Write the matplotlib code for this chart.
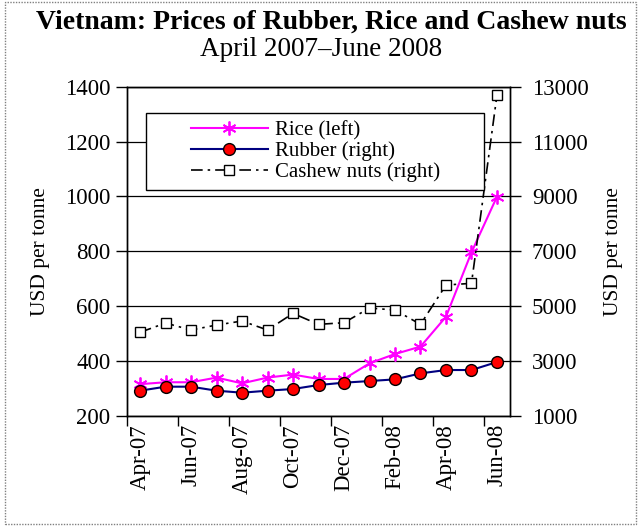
import matplotlib
matplotlib.use("Agg")
import matplotlib.pyplot as plt
from matplotlib.patches import Rectangle
from matplotlib.lines import Line2D
import numpy as np

plt.rcParams["font.family"] = ["Liberation Serif", "DejaVu Serif"]

# --- data ------------------------------------------------------------------
months = ["Apr-07", "May-07", "Jun-07", "Jul-07", "Aug-07", "Sep-07", "Oct-07",
          "Nov-07", "Dec-07", "Jan-08", "Feb-08", "Mar-08", "Apr-08", "May-08",
          "Jun-08"]
rice = [315, 322, 322, 339, 318, 339, 350, 334, 334, 391, 425, 452, 561, 796, 999]
rubber = [1912, 2058, 2058, 1912, 1839, 1912, 1973, 2119, 2204, 2264, 2325,
          2544, 2666, 2666, 2957]
cashew = [4040, 4380, 4125, 4307, 4453, 4125, 4732, 4331, 4392, 4927, 4854,
          4331, 5766, 5827, 12700]

left_ticks = [200, 400, 600, 800, 1000, 1200, 1400]
right_ticks = [1000, 3000, 5000, 7000, 9000, 11000, 13000]

FS = 16.5
x = np.arange(len(months))

fig = plt.figure(figsize=(6.39, 5.27), dpi=100)
ax = fig.add_axes([0.1992, 0.2112, 0.5985, 0.6243])
ax2 = ax.twinx()

# rice on the left axis
ax.plot(x, rice, color="#ff00ff", lw=1.5, marker=(6, 2, 0), ms=10, mew=1.3,
        zorder=3)
ax.set_ylim(200, 1400)
ax.set_yticks(left_ticks)
ax.set_xlim(-0.5, len(months) - 0.5)
ax.grid(axis="y", color="black", lw=0.9)
ax.set_axisbelow(True)

# category axis: ticks every 2 categories, labels on the points
ax.set_xticks(np.arange(-0.5, len(months) - 1, 2))
ax.set_xticks(x[::2], minor=True)
ax.set_xticklabels([])
ax.set_xticklabels(months[::2], minor=True, rotation=90, fontsize=FS)
ax.tick_params(axis="x", which="major", direction="out", length=7, width=1)
ax.tick_params(axis="x", which="minor", length=0, pad=6)
ax.tick_params(axis="y", direction="out", length=8, width=1, labelsize=FS, pad=4)
ax.set_ylabel("USD per tonne", fontsize=15.5, labelpad=11)

# rubber and cashew on the right axis
ax2.plot(x, rubber, color="#000080", lw=1.5, marker="o", ms=8.5, mfc="red",
         mec="black", mew=1.0, zorder=3)
ax2.plot(x, cashew, color="black", lw=1.2, ls=(0, (7, 3, 1.5, 3)), marker="s",
         ms=7, mfc="white", mec="black", mew=1.0, zorder=3)
ax2.set_ylim(1000, 13000)
ax2.set_yticks(right_ticks)
ax2.tick_params(axis="y", direction="out", length=8, width=1, labelsize=FS, pad=8)
ax2.set_ylabel("USD per tonne", fontsize=15.5, labelpad=11)

for a in (ax, ax2):
    for s in a.spines.values():
        s.set_linewidth(1)
        s.set_color("black")

# legend in a fixed box
box = Rectangle((0.049, 0.685), 0.883, 0.235, transform=ax2.transAxes,
                facecolor="white", edgecolor="black", lw=1, zorder=5)
ax2.add_patch(box)
handles = [
    Line2D([], [], color="#ff00ff", lw=1.5, marker=(6, 2, 0), ms=10, mew=1.3),
    Line2D([], [], color="#000080", lw=1.5, marker="o", ms=8.5, mfc="red",
           mec="black"),
    Line2D([], [], color="black", lw=1.2, ls=(0, (7, 3, 1.5, 3)), marker="s",
           ms=7, mfc="white", mec="black"),
]
labels = ["Rice (left)", "Rubber (right)", "Cashew nuts (right)"]
leg = ax2.legend(handles, labels, loc="center", bbox_to_anchor=(0.492, 0.8025),
                 frameon=False, fontsize=15, handlelength=3.7,
                 handletextpad=0.35, labelspacing=0.05, borderpad=0.1)
leg.set_zorder(6)

# titles
fig.text(0.518, 0.945, "Vietnam: Prices of Rubber, Rice and Cashew nuts",
         ha="center", va="baseline", fontsize=20, fontweight="bold")
fig.text(0.503, 0.893, "April 2007\u2013June 2008", ha="center",
         va="baseline", fontsize=19.5)

# dotted frame around the whole chart
fig.patches.append(Rectangle((0.008, 0.006), 0.988, 0.99,
                             transform=fig.transFigure, fill=False,
                             edgecolor="#808080", lw=1, ls=(0, (1, 1))))

fig.savefig("out.png", dpi=100)
